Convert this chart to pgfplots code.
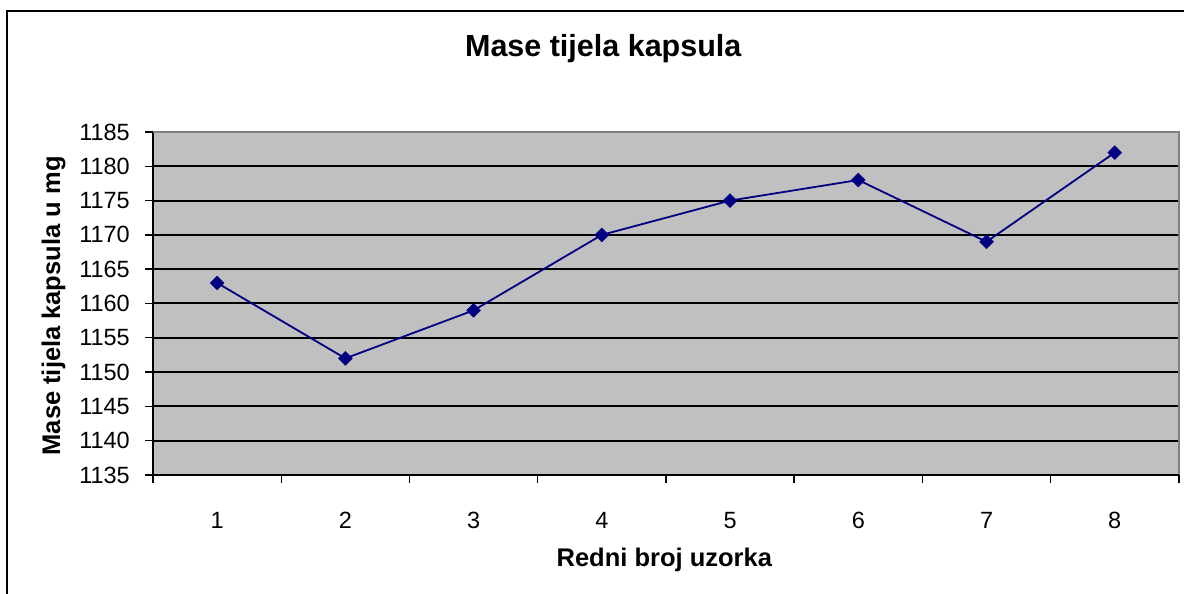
\documentclass[border=0pt]{standalone}
\usepackage{pgfplots}
\pgfplotsset{compat=1.18}
\usepackage{fontspec}
\setmainfont{Liberation Sans}
\definecolor{plotbg}{HTML}{C0C0C0}
\definecolor{navyline}{HTML}{000080}
\begin{document}
\begin{tikzpicture}[x=1pt,y=1pt]
\useasboundingbox (0,0) rectangle (1184,594);
\draw[line width=2.2pt,line cap=rect] (7,-5) -- (7,583) -- (1190,583);
\begin{axis}[
  at={(153pt,119pt)}, anchor=south west,
  scale only axis, width=1026pt, height=343pt,
  xmin=0.5, xmax=8.5, ymin=1135, ymax=1185,
  xtick={1,...,8}, ytick={1135,1140,...,1185},
  minor xtick={0.5,1.5,...,8.5},
  major x tick style={draw=none},
  minor x tick style={line width=1.4pt,black},
  minor tick length=8pt,
  major y tick style={line width=1.4pt,black},
  major tick length=8pt,
  tick align=outside,
  xtick pos=bottom, ytick pos=left,
  axis background/.style={fill=plotbg},
  ymajorgrids,
  grid style={line width=2pt,black},
  axis line style={line width=2pt,black},
  /pgf/number format/assume math mode=true,
  /pgf/number format/1000 sep={},
  ticklabel style={font=\fontsize{23.5}{23.5}\selectfont},
  yticklabel style={inner sep=0pt, xshift=-15pt},
  xticklabel style={inner sep=0pt, anchor=base, yshift=-46pt},
  title={\textbf{Mase tijela kapsula}},
  title style={at={(axis description cs:0.439,1.204)}, anchor=base, font=\fontsize{30.5}{30.5}\selectfont, inner sep=0pt},
  xlabel={\textbf{Redni broj uzorka}},
  xlabel style={at={(axis description cs:0.4985,-0.268)}, anchor=base, font=\fontsize{25.5}{25.5}\selectfont, inner sep=0pt},
  ylabel={\textbf{Mase tijela kapsula u mg}},
  ylabel style={at={(axis description cs:-0.0906,0.493)}, anchor=base, rotate=0, font=\fontsize{25.5}{25.5}\selectfont, inner sep=0pt},
  clip=false,
]
\addplot[navyline, line width=1.8pt, mark=square*, mark size=4.9pt, mark options={rotate=45, fill=navyline, draw=navyline, line width=0.5pt}]
  coordinates {(1,1163) (2,1152) (3,1159) (4,1170) (5,1175) (6,1178) (7,1169) (8,1182)};
\draw[gray, line width=2pt] (rel axis cs:0,1) -- (rel axis cs:1,1) -- (rel axis cs:1,0);
\draw[black, line width=2pt] (rel axis cs:0,0) -- (rel axis cs:1,0);
\end{axis}
\end{tikzpicture}
\end{document}
